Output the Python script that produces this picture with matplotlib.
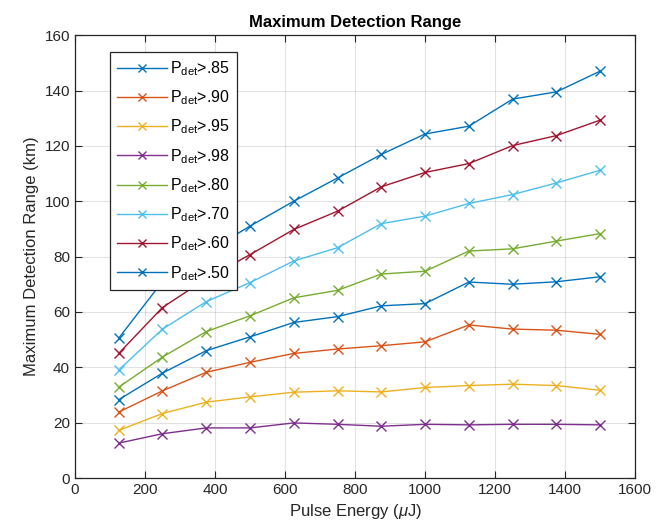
import matplotlib
matplotlib.use("Agg")
import matplotlib.pyplot as plt

# pulse energy (uJ)
energy = [125, 250, 375, 500, 625, 750, 875, 1000, 1125, 1250, 1375, 1500]

# max detection range (km) for each detection probability threshold
p85 = [28.3, 37.9, 46.0, 51.0, 56.2, 58.3, 62.2, 63.0, 70.8, 70.0, 70.9, 72.7]
p90 = [23.8, 31.5, 38.2, 41.8, 45.0, 46.6, 47.8, 49.2, 55.3, 53.8, 53.4, 51.9]
p95 = [17.2, 23.3, 27.4, 29.3, 31.0, 31.5, 31.1, 32.7, 33.4, 33.9, 33.4, 31.7]
p98 = [12.6, 16.0, 18.1, 18.1, 19.9, 19.4, 18.7, 19.4, 19.2, 19.4, 19.4, 19.2]
p80 = [32.8, 43.7, 52.9, 58.6, 65.1, 67.8, 73.7, 74.7, 82.0, 82.8, 85.6, 88.3]
p70 = [39.0, 53.8, 63.7, 70.6, 78.4, 83.2, 91.9, 94.6, 99.2, 102.4, 106.6, 111.2]
p60 = [45.0, 61.6, 72.0, 80.7, 89.8, 96.4, 105.2, 110.4, 113.6, 120.1, 123.7, 129.3]
p50 = [50.5, 71.0, 81.5, 91.0, 100.0, 108.4, 116.9, 124.3, 127.1, 136.9, 139.5, 147.0]

labels = [".85", ".90", ".95", ".98", ".80", ".70", ".60", ".50"]
series = [p85, p90, p95, p98, p80, p70, p60, p50]
colors = ["#0072BD", "#D95319", "#EDB120", "#7E2F8E",
          "#77AC30", "#4DBEEE", "#A2142F", "#0072BD"]

plt.rcParams["font.family"] = ["Liberation Sans", "DejaVu Sans"]
plt.rcParams["mathtext.fontset"] = "custom"
plt.rcParams["mathtext.rm"] = "Liberation Sans"
plt.rcParams["mathtext.it"] = "Liberation Sans:italic"

fig = plt.figure(figsize=(6.63, 5.31), dpi=100)
ax = fig.add_axes([0.113, 0.0998, 0.845, 0.834])

for vals, lab, c in zip(series, labels, colors):
    ax.plot(energy, vals, color=c, marker="x", markersize=7, linewidth=1.0,
            label=r"P$_{\rm det}$>" + lab)

ax.set_xlim(0, 1600)
ax.set_ylim(0, 160)
ax.set_xticks(range(0, 1601, 200))
ax.set_yticks(range(0, 161, 20))
ax.grid(True, color="#262626", alpha=0.13, linewidth=0.8)
ax.tick_params(direction="in", top=True, right=True, labelsize=11,
               colors="#262626", length=5)
for s in ax.spines.values():
    s.set_color("#262626")
    s.set_linewidth(0.9)

ax.set_title("Maximum Detection Range", fontsize=12, fontweight="bold",
             color="black")
ax.set_xlabel(r"Pulse Energy ($\mu$J)", fontsize=12, color="#262626")
ax.set_ylabel("Maximum Detection Range (km)", fontsize=12, color="#262626")

leg = ax.legend(loc="upper left", bbox_to_anchor=(0.0625, 0.962), fontsize=11.5,
                fancybox=False, framealpha=1, edgecolor="#262626",
                handlelength=3.1, handletextpad=0.2, labelspacing=0.66,
                borderaxespad=0, borderpad=0.45, markerscale=0.85)
leg.get_frame().set_linewidth(0.9)

fig.savefig("out.png", dpi=100)
